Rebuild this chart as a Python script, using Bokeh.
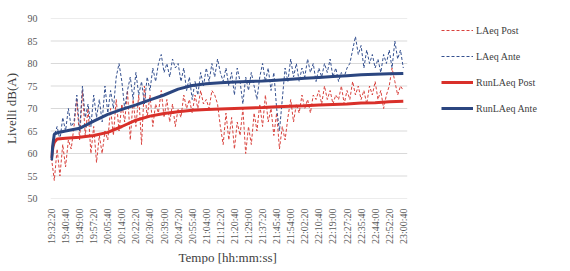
from bokeh.plotting import figure
from bokeh.models import FixedTicker, Legend, LegendItem, Range1d, Title
from bokeh.embed import file_html
from bokeh.resources import INLINE
import math

# ---- data ----
time_labels = ["19:32:20", "19:40:40", "19:49:00", "19:57:20", "20:05:40", "20:14:00",
               "20:22:20", "20:30:40", "20:39:00", "20:47:20", "20:55:40", "21:04:00",
               "21:12:20", "21:20:40", "21:29:00", "21:37:20", "21:45:40", "21:54:00",
               "22:02:20", "22:10:40", "22:19:00", "22:27:20", "22:35:40", "22:44:00",
               "22:52:20", "23:00:40"]
label_step_s = 500
sample_step_s = 100

laeq_post = [59, 54, 61, 55, 62, 57, 63, 61,
             66, 72, 63, 74, 64, 70, 60,
             66, 58, 64, 60, 65,
             63, 70, 64, 72, 65, 71, 67, 74, 63, 72,
             66, 73, 62, 75, 68, 73, 66, 71, 69, 74,
             68, 72, 67, 71, 66, 70, 68, 73, 70, 72,
             69, 73, 70, 74, 71, 72, 70, 74, 73, 71,
             66, 62, 69, 63, 68, 61, 67, 64, 70, 60, 66, 62, 69, 65,
             71, 66, 73, 67, 70, 64, 69, 61, 66, 63,
             68, 72, 67, 71, 69, 73, 70, 72, 69, 73,
             72, 74, 71, 75, 72, 74, 71, 73, 72, 75, 71, 74, 72, 76, 73, 75,
             72, 74, 71, 75, 73, 76, 72, 74, 70, 73, 75, 79, 76, 73, 75, 74]

laeq_ante = [60, 64, 66, 63, 68, 65, 70, 66,
             67, 73, 65, 75, 68, 71, 66, 73,
             68, 72, 67, 75, 69, 74, 70, 77, 80, 76, 70,
             74, 77, 72, 78, 73, 76, 71, 77, 74, 79,
             76, 80, 82, 78, 80, 77, 81, 79, 80, 76, 79,
             74, 77, 72, 76, 73, 78, 75,
             79, 76, 80, 77, 81, 78, 76, 79,
             75, 78, 73, 79, 76, 71, 77, 74, 78, 75, 72,
             77, 80, 76, 79, 74, 78, 70, 65, 72, 79,
             76, 81, 77, 80, 76, 79, 77, 81, 78, 80, 76, 79,
             77, 80, 78, 81, 77, 79, 76, 78, 77, 79,
             80, 83, 86, 82, 84, 79, 83, 80, 82,
             79, 81, 78, 82, 80, 83, 79, 85, 81, 83, 79]

run_t = [0, 50, 100, 200, 500, 1000, 1500, 2000, 2500, 3000, 3500, 4000, 4500, 5000,
         5500, 6000, 6500, 7000, 7500, 8000, 8500, 9000, 9500, 10000, 10500, 11000,
         11500, 12000, 12500]
run_post = [59.0, 61.5, 62.5, 63.2, 63.4, 63.6, 64.0, 64.7, 66.0, 67.4, 68.3, 68.9, 69.3,
            69.6, 69.8, 69.9, 70.0, 70.1, 70.2, 70.4, 70.5, 70.6, 70.8, 70.9, 71.0, 71.2,
            71.3, 71.5, 71.6]
run_ante = [58.5, 62.0, 64.3, 64.6, 65.0, 65.6, 67.2, 68.7, 69.8, 70.8, 71.9, 73.0, 74.3,
            75.1, 75.5, 75.7, 75.9, 76.0, 76.1, 76.3, 76.5, 76.7, 76.9, 77.1, 77.3, 77.5,
            77.6, 77.7, 77.8]

y_ticks = [50, 55, 60, 65, 70, 75, 80, 85, 90]

# ---- derived positions ----
t_samples = [i * sample_step_s for i in range(len(laeq_post))]
tick_pos = [i * label_step_s for i in range(len(time_labels))]

FONT = "Liberation Serif"
RED_D = "#D8413C"
BLUE_D = "#34508F"
RED = "#D9302A"
BLUE = "#2B4680"

# plot area spans the data region (x -35..12640) plus room on the right for the legend
X0, X1 = -35, 12640
X_END = 17872

p = figure(width=554, height=264, output_backend="svg", toolbar_location=None,
           x_range=Range1d(X0, X_END), y_range=Range1d(50, 90),
           min_border_left=44, min_border_right=0, min_border_top=18,
           min_border_bottom=62)
p.outline_line_color = None
p.background_fill_color = "white"
p.border_fill_color = "white"

# horizontal gridlines limited to the data region
p.segment(x0=[X0] * len(y_ticks), x1=[X1] * len(y_ticks), y0=y_ticks, y1=y_ticks,
          line_color="#d9d9d9", line_width=1)

r1 = p.line(t_samples, laeq_post, line_color=RED_D, line_width=1, line_dash="3 2")
r2 = p.line(t_samples, laeq_ante, line_color=BLUE_D, line_width=1, line_dash="3 2")
r3 = p.line(run_t, run_post, line_color=RED, line_width=3)
r4 = p.line(run_t, run_ante, line_color=BLUE, line_width=3)

# axes
p.xaxis.ticker = FixedTicker(ticks=tick_pos)
p.xaxis.major_label_overrides = {t: lab for t, lab in zip(tick_pos, time_labels)}
p.xaxis.major_label_orientation = math.pi / 2
p.xaxis.major_label_text_font = FONT
p.xaxis.major_label_text_font_size = "10px"
p.xaxis.major_label_text_color = "#595959"
p.xaxis.major_label_standoff = 4
p.xaxis.major_tick_line_color = None
p.xaxis.minor_tick_line_color = None
p.xaxis.axis_line_color = None

xtitle = Title(text="Tempo [hh:mm:ss]", align="left", offset=128,
               text_font=FONT, text_font_style="normal", text_font_size="13px",
               text_color="#404040", standoff=0)
p.add_layout(xtitle, "below")

p.yaxis.ticker = FixedTicker(ticks=y_ticks)
p.yaxis.major_label_text_font = FONT
p.yaxis.major_label_text_font_size = "10px"
p.yaxis.major_label_text_color = "#595959"
p.yaxis.major_label_standoff = 7
p.yaxis.major_tick_line_color = None
p.yaxis.minor_tick_line_color = None
p.yaxis.axis_line_color = None
p.yaxis.axis_label = "Livelli dB(A)"
p.yaxis.axis_label_text_font = FONT
p.yaxis.axis_label_text_font_style = "normal"
p.yaxis.axis_label_text_font_size = "13px"
p.yaxis.axis_label_text_color = "#404040"
p.yaxis.axis_label_standoff = 6

p.xgrid.grid_line_color = None
p.ygrid.grid_line_color = None

legend = Legend(items=[LegendItem(label="LAeq Post", renderers=[r1]),
                       LegendItem(label="LAeq Ante", renderers=[r2]),
                       LegendItem(label="RunLAeq Post", renderers=[r3]),
                       LegendItem(label="RunLAeq Ante", renderers=[r4])],
                location=(391, 81))
legend.border_line_color = None
legend.background_fill_alpha = 0
legend.padding = 0
legend.margin = 0
legend.spacing = 8
legend.glyph_width = 32
legend.glyph_height = 18
legend.label_height = 18
legend.label_standoff = 3
legend.label_text_font = FONT
legend.label_text_font_size = "10px"
legend.label_text_color = "#404040"
p.add_layout(legend, "center")

open("out.html", "w").write(file_html(p, INLINE))
